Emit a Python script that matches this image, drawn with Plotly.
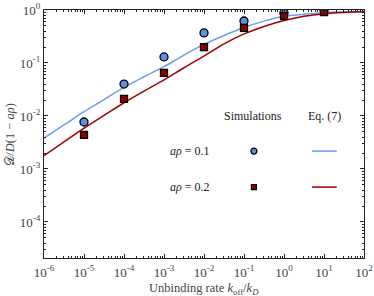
import plotly.graph_objects as go

# simulation points
k_sim = [1e-5, 1e-4, 1e-3, 1e-2, 1e-1, 1e0, 1e1]
sim_01 = [0.0077, 0.040, 0.13, 0.37, 0.62, 0.88, 1.0]
sim_02 = [0.0044, 0.021, 0.065, 0.20, 0.46, 0.77, 0.91]

# Eq. (7) curves (log10 values)
k_log = [-6, -5.5, -5, -4.5, -4, -3.5, -3, -2.5, -2, -1.5, -1, -0.5, 0, 0.5, 1, 1.5, 2]
eq_01_log = [-2.42, -2.17, -1.92, -1.69, -1.46, -1.26, -1.07, -0.85, -0.65, -0.48, -0.33, -0.21, -0.12, -0.08, -0.05, -0.035, -0.03]
eq_02_log = [-2.75, -2.49, -2.23, -1.99, -1.75, -1.53, -1.32, -1.09, -0.87, -0.64, -0.45, -0.31, -0.20, -0.12, -0.07, -0.045, -0.035]

x_exps = [-6, -5, -4, -3, -2, -1, 0, 1, 2]
y_exps = [-4, -3, -2, -1, 0]
labels = ["<i>aρ</i> = 0.1", "<i>aρ</i> = 0.2"]

BLUE_L = "#6c9cf0"
BLUE_M = "#5b8fe0"
RED_L = "#a00000"
RED_M = "#8c0000"
FONT = "Liberation Serif"

k_vals = [10 ** v for v in k_log]
eq_01 = [10 ** v for v in eq_01_log]
eq_02 = [10 ** v for v in eq_02_log]


def tick_text(e):
    return "10<sup>%s</sup>" % ("-%d" % -e if e < 0 else "%d" % e)


def minor_vals(exps, lo, hi):
    out = []
    for e in range(min(exps) - 1, max(exps) + 1):
        for m in range(2, 10):
            v = m * 10 ** e
            if lo <= v <= hi:
                out.append(v)
    return out


fig = go.Figure()
fig.add_trace(go.Scatter(x=k_vals, y=eq_01, mode="lines", line=dict(color=BLUE_L, width=1.5, shape="spline"), showlegend=False))
fig.add_trace(go.Scatter(x=k_vals, y=eq_02, mode="lines", line=dict(color=RED_L, width=1.5, shape="spline"), showlegend=False))
fig.add_trace(go.Scatter(x=k_sim, y=sim_01, mode="markers",
                         marker=dict(symbol="circle", size=8, color=BLUE_M, line=dict(color="black", width=1.3)), showlegend=False))
fig.add_trace(go.Scatter(x=k_sim, y=sim_02, mode="markers",
                         marker=dict(symbol="square", size=7, color=RED_M, line=dict(color="black", width=1.3)), showlegend=False))

# legend drawn on an overlay axis
leg_y = [0.431, 0.286]
fig.add_trace(go.Scatter(x=[0.656], y=[leg_y[0]], xaxis="x2", yaxis="y2", mode="markers",
                         marker=dict(symbol="circle", size=6, color=BLUE_M, line=dict(color="black", width=1.2)), showlegend=False))
fig.add_trace(go.Scatter(x=[0.656], y=[leg_y[1]], xaxis="x2", yaxis="y2", mode="markers",
                         marker=dict(symbol="square", size=5, color=RED_M, line=dict(color="black", width=1.2)), showlegend=False))
fig.add_trace(go.Scatter(x=[0.8375, 0.915], y=[leg_y[0]] * 2, xaxis="x2", yaxis="y2", mode="lines",
                         line=dict(color=BLUE_L, width=1.5), showlegend=False))
fig.add_trace(go.Scatter(x=[0.8375, 0.915], y=[leg_y[1]] * 2, xaxis="x2", yaxis="y2", mode="lines",
                         line=dict(color=RED_L, width=1.5), showlegend=False))

ann = [
    dict(x=0.653, y=0.573, text="Simulations"),
    dict(x=0.878, y=0.573, text="Eq. (7)"),
    dict(x=0.456, y=leg_y[0], text=labels[0]),
    dict(x=0.456, y=leg_y[1], text=labels[1]),
]
for a in ann:
    fig.add_annotation(xref="x2", yref="y2", showarrow=False, font=dict(family=FONT, size=12, color="#222"), **a)

fig.add_annotation(xref="paper", yref="paper", x=0.5, y=-0.125, yanchor="middle", showarrow=False,
                   text="Unbinding rate <i>k</i><sub>off</sub>/<i>k</i><sub><i>D</i></sub>",
                   font=dict(family=FONT, size=12.5, color="#444"))
fig.add_annotation(xref="paper", yref="paper", x=-0.107, y=0.5, xanchor="center", yanchor="middle",
                   textangle=-90, showarrow=False,
                   text="𝒟/<i>D</i>(1 − <i>aρ</i>)",
                   font=dict(family=FONT, size=12.5, color="#444"))


def axis(exps, lo, hi):
    return dict(type="log", showline=True, linecolor="#222", linewidth=1.2, mirror="ticks",
                ticks="inside", ticklen=4, tickwidth=1, tickcolor="#222", showgrid=False, zeroline=False,
                automargin=False,
                tickmode="array", tickvals=[10 ** e for e in exps], ticktext=[tick_text(e) for e in exps],
                minor=dict(ticks="inside", ticklen=2, tickcolor="#222", showgrid=False,
                           tickmode="array", tickvals=minor_vals(exps, lo, hi)),
                tickfont=dict(family=FONT, size=13, color="#444"))


fig.update_layout(
    width=374, height=296,
    margin=dict(l=44, r=10, t=10, b=38, autoexpand=False),
    paper_bgcolor="white", plot_bgcolor="white",
    font=dict(family=FONT),
    xaxis=dict(range=[-6, 2], ticklabelstandoff=2, **axis(x_exps, 1e-6, 1e2)),
    yaxis=dict(range=[-4.68, 0], **axis(y_exps, 10 ** -4.68, 1)),
    xaxis2=dict(range=[0, 1], overlaying="x", visible=False),
    yaxis2=dict(range=[0, 1], overlaying="y", visible=False),
    showlegend=False,
)

fig.write_html("out.html", post_script="document.body.style.margin='0';",
               config={"displayModeBar": False})
